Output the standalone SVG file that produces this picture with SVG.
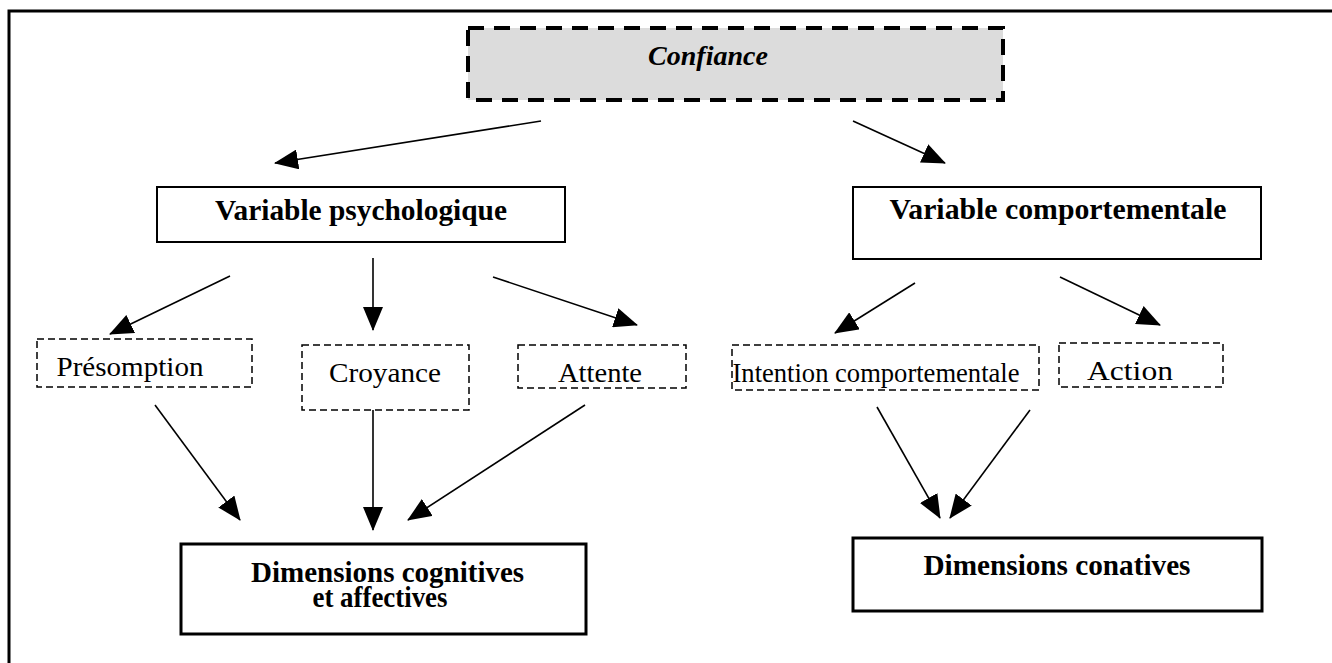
<svg xmlns="http://www.w3.org/2000/svg" width="1332" height="663" viewBox="0 0 1332 663">
  <style>
    .frame { stroke: #000; stroke-width: 3; fill: none; }
    .solid { fill: #fff; stroke: #000; stroke-width: 2; }
    .thick { fill: #fff; stroke: #000; stroke-width: 3; }
    .dash { fill: #fff; stroke: #000; stroke-width: 1.5; stroke-dasharray: 7 4; }
    .top { fill: #dcdcdc; stroke: #000; stroke-width: 4; stroke-dasharray: 16 10; }
    .lbl { font-family: "Liberation Serif", "Times New Roman", serif; font-size: 28px; fill: #000; text-anchor: middle; }
    .bold { font-weight: bold; font-size: 29px; }
    .ital { font-style: italic; font-weight: bold; font-size: 28px; }
    .conn line { stroke: #000; stroke-width: 1.6; marker-end: url(#head); }
  </style>
  <defs>
    <marker id="head" markerUnits="userSpaceOnUse" markerWidth="24" markerHeight="20" refX="23" refY="10" orient="auto">
      <path d="M0,0 L24,10 L0,20 z" fill="#000"/>
    </marker>
  </defs>

  <rect width="1332" height="663" fill="#fff"/>

  <!-- outer frame: top and left rules only -->
  <path class="frame" d="M9,663 V11 H1332"/>

  <g id="confiance">
    <rect class="top" x="468" y="28" width="535" height="72"/>
    <text class="lbl ital" x="708" y="65">Confiance</text>
  </g>

  <g id="var-psycho">
    <rect class="solid" x="157" y="187" width="408" height="55"/>
    <text class="lbl bold" x="361" y="220" textLength="292" lengthAdjust="spacingAndGlyphs">Variable psychologique</text>
  </g>

  <g id="var-comport">
    <rect class="solid" x="853" y="187" width="408" height="72"/>
    <text class="lbl bold" x="1058" y="219" textLength="337" lengthAdjust="spacingAndGlyphs">Variable comportementale</text>
  </g>

  <g id="presomption">
    <rect class="dash" x="37" y="339" width="215" height="48"/>
    <text class="lbl" x="130" y="376" textLength="147" lengthAdjust="spacingAndGlyphs">Présomption</text>
  </g>

  <g id="croyance">
    <rect class="dash" x="302" y="345" width="167" height="65"/>
    <text class="lbl" x="385" y="382" textLength="112" lengthAdjust="spacingAndGlyphs">Croyance</text>
  </g>

  <g id="attente">
    <rect class="dash" x="518" y="345" width="168" height="43"/>
    <text class="lbl" x="600" y="382" textLength="84" lengthAdjust="spacingAndGlyphs">Attente</text>
  </g>

  <g id="intention">
    <rect class="dash" x="732" y="345" width="307" height="45"/>
    <text class="lbl" x="876" y="382" textLength="287" lengthAdjust="spacingAndGlyphs">Intention comportementale</text>
  </g>

  <g id="action">
    <rect class="dash" x="1059" y="343" width="164" height="44"/>
    <text class="lbl" x="1130" y="380" textLength="86" lengthAdjust="spacingAndGlyphs">Action</text>
  </g>

  <g id="dim-cognitives">
    <rect class="thick" x="181" y="544" width="405" height="90"/>
    <text class="lbl bold" x="251" y="582" text-anchor="start" style="text-anchor:start">Dimensions cognitives</text>
    <text class="lbl bold" x="380" y="607" textLength="135" lengthAdjust="spacingAndGlyphs">et affectives</text>
  </g>

  <g id="dim-conatives">
    <rect class="thick" x="853" y="538" width="409" height="73"/>
    <text class="lbl bold" x="1057" y="575" textLength="267" lengthAdjust="spacingAndGlyphs">Dimensions conatives</text>
  </g>

  <g id="connectors" class="conn">
    <line x1="541" y1="121" x2="275" y2="163"/>
    <line x1="853" y1="121" x2="945" y2="163"/>
    <line x1="230" y1="276" x2="110" y2="334"/>
    <line x1="373" y1="258" x2="373" y2="330"/>
    <line x1="493" y1="277" x2="637" y2="325"/>
    <line x1="915" y1="283" x2="835" y2="333"/>
    <line x1="1060" y1="277" x2="1160" y2="325"/>
    <line x1="155" y1="405" x2="240" y2="520"/>
    <line x1="373" y1="410" x2="373" y2="530"/>
    <line x1="585" y1="405" x2="408" y2="520"/>
    <line x1="877" y1="407" x2="940" y2="518"/>
    <line x1="1030" y1="410" x2="950" y2="518"/>
  </g>
</svg>
